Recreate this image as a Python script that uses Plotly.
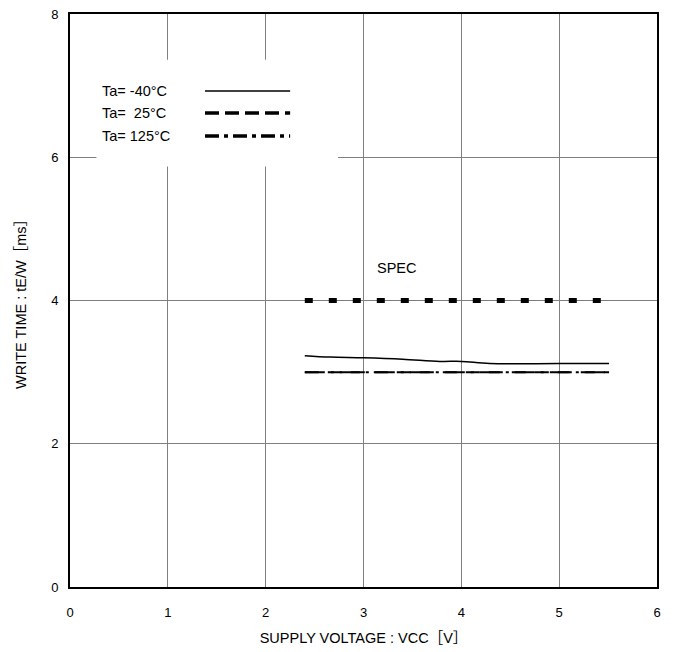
import plotly.graph_objects as go

# Data
vcc_spec = [2.4, 5.5]
spec_ms = [4.0, 4.0]

vcc_m40 = [2.40, 2.66, 3.00, 3.40, 3.78, 4.00, 4.29, 5.00, 5.51]
t_m40 = [3.23, 3.21, 3.20, 3.18, 3.15, 3.15, 3.12, 3.12, 3.12]

vcc_25 = [2.40, 5.51]
t_25 = [3.00, 3.00]

vcc_125 = [2.40, 5.51]
t_125 = [3.00, 3.00]

x_ticks = [0, 1, 2, 3, 4, 5, 6]
y_ticks = [0, 2, 4, 6, 8]

legend_labels = ["Ta= -40\u00b0C", "Ta=  25\u00b0C", "Ta= 125\u00b0C"]

FONT = "Liberation Sans, Arial, Noto Sans CJK JP, sans-serif"

fig = go.Figure()

fig.add_trace(go.Scatter(x=vcc_spec, y=spec_ms, mode="lines",
                         line=dict(color="black", width=5, dash="8px,16px"),
                         showlegend=False, hoverinfo="skip"))
fig.add_trace(go.Scatter(x=vcc_25, y=t_25, mode="lines",
                         line=dict(color="black", width=2, dash="14px,9px"),
                         showlegend=False))
fig.add_trace(go.Scatter(x=vcc_125, y=t_125, mode="lines",
                         line=dict(color="black", width=2, dash="20px,6px,3px,6px"),
                         showlegend=False))
fig.add_trace(go.Scatter(x=vcc_m40, y=t_m40, mode="lines", line_shape="spline",
                         line=dict(color="black", width=1.5),
                         showlegend=False))

# white legend panel covering gridlines
fig.add_shape(type="rect", xref="x", yref="y", x0=0.27, x1=2.74, y0=5.87, y1=7.36,
              fillcolor="white", line=dict(width=0), layer="between")

# legend entries
leg_y = [6.925, 6.618, 6.297]
leg_styles = [dict(width=1.5, dash="solid"),
              dict(width=3.5, dash="14px,6px"),
              dict(width=3.5, dash="14px,5px,4px,5px")]
for lbl, yy, st in zip(legend_labels, leg_y, leg_styles):
    fig.add_annotation(x=0.307, y=yy, xref="x", yref="y", text=lbl, showarrow=False,
                       xanchor="left", yanchor="middle",
                       font=dict(family=FONT, size=14.5, color="black"))
    fig.add_shape(type="line", xref="x", yref="y", x0=1.38, x1=2.25, y0=yy, y1=yy,
                  line=dict(color="black", **st))

fig.add_annotation(x=3.118, y=4.454, xref="x", yref="y", text="SPEC", showarrow=False,
                   xanchor="left", yanchor="middle",
                   font=dict(family=FONT, size=14.5, color="black"))

axis_common = dict(showline=True, linecolor="black", linewidth=2, mirror=True,
                   showgrid=True, gridcolor="#7f7f7f", gridwidth=1, zeroline=False,
                   ticks="", automargin=False, ticklabeloverflow="allow",
                   tickfont=dict(family=FONT, size=13, color="black"))

fig.update_xaxes(range=[0, 6], tickvals=x_ticks, ticktext=[str(v) for v in x_ticks],
                 ticklabelstandoff=12,
                 title=dict(text="SUPPLY VOLTAGE : VCC\uff3bV\uff3d", standoff=14,
                            font=dict(family=FONT, size=14.5, color="black")),
                 **axis_common)
fig.update_yaxes(range=[0, 8], tickvals=y_ticks, ticktext=[str(v) for v in y_ticks],
                 ticklabelstandoff=7,
                 title=dict(text="WRITE TIME : tE/W\uff3bms\uff3d", standoff=21,
                            font=dict(family=FONT, size=14.5, color="black")),
                 **axis_common)

fig.update_layout(width=677, height=652, plot_bgcolor="white", paper_bgcolor="white",
                  margin=dict(l=62, r=28, t=6, b=73), showlegend=False,
                  font=dict(family=FONT, size=12, color="black"))

fig.write_html("out.html")
